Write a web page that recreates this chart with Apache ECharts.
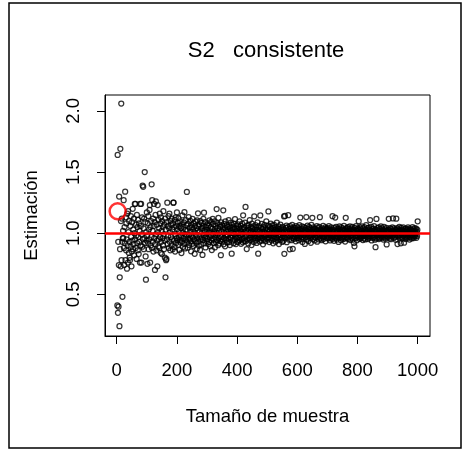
<!DOCTYPE html>
<html>
<head>
<meta charset="utf-8">
<script src="https://cdn.jsdelivr.net/npm/echarts@6/dist/echarts.min.js"></script>
<style>
html,body{margin:0;padding:0;background:#fff;}
#chart{width:468px;height:452px;}
</style>
</head>
<body>
<div id="chart"></div>
<script>
// Sample sizes start at 2 and run to 1000 (one estimate per sample size)
const firstSampleSize = 2;

const estimatesN2to20 = [0.41,1.64,0.35,0.93,0.40,0.74,1.30,0.24,0.64,0.87,1.69,0.73,1.10,2.06,0.78,1.12,0.93,0.48,0.96];

const estimatesN21to100 = [
1.02,0.96,1.27,0.88,0.74,1.05,0.92,1.34,0.78,1.13,
0.86,1.08,0.95,0.71,1.16,0.90,0.76,1.18,1.01,0.84,
1.10,0.93,0.80,0.78,1.06,0.89,1.14,0.97,0.73,0.85,
1.09,0.94,1.20,0.87,1.03,0.91,1.12,0.82,1.00,1.24,
0.95,1.24,0.88,1.07,0.98,0.79,1.15,0.92,1.05,0.86,
1.11,0.97,0.83,1.08,0.93,1.02,0.76,1.24,0.90,1.06,
1.24,0.76,0.99,1.13,0.89,1.39,0.95,1.38,1.04,0.87,
1.12,0.96,1.50,0.92,1.09,0.81,0.62,1.01,0.94,1.17];

const estimatesN101to200 = [
0.98,0.75,1.08,0.92,1.14,0.87,1.03,0.95,1.19,1.23,
0.76,1.05,0.90,1.10,0.97,1.40,0.88,1.27,1.02,0.93,
1.12,0.85,1.06,1.24,0.96,1.09,0.70,0.91,1.15,1.26,
0.99,0.86,1.07,0.94,0.73,1.23,1.01,0.89,1.11,0.95,
1.04,0.88,1.16,0.97,1.08,0.84,1.13,0.93,1.02,0.83,
1.10,0.96,1.05,0.90,1.18,0.99,0.87,1.07,0.94,0.80,
1.12,0.64,1.03,0.78,0.79,1.09,0.95,1.25,0.91,1.06,
0.98,1.14,0.88,1.04,1.16,0.93,1.01,0.86,1.10,0.97,
1.07,0.90,1.12,0.95,1.03,0.87,1.08,1.25,1.25,0.94,
1.05,0.89,1.11,0.85,0.99,1.13,0.92,1.06,0.96,1.17];

const estimatesN201to300 = [
1.034,0.942,1.087,0.905,1.123,0.969,1.011,0.863,1.058,0.947,
1.096,0.924,1.043,0.981,0.838,1.072,0.935,1.146,1.004,0.887,
1.053,0.961,1.089,0.915,1.172,0.993,0.876,1.027,0.944,1.108,
0.972,1.064,1.338,0.926,1.019,0.882,1.077,0.953,1.131,0.987,
0.903,1.045,0.958,1.102,0.934,1.016,0.852,1.069,0.976,1.048,
0.914,1.117,0.965,1.032,0.896,1.083,0.949,1.007,0.832,1.061,
0.938,1.094,0.985,0.921,1.042,0.873,1.106,0.957,1.024,1.163,
0.931,1.056,0.897,1.073,0.979,1.013,0.864,1.098,0.952,1.036,
0.908,1.084,0.967,1.041,0.823,1.059,0.943,1.118,0.986,1.168,
0.917,1.023,0.962,1.091,0.884,1.052,0.974,1.008,0.936,1.067];

const estimatesN301to400 = [
1.027,0.953,1.081,0.912,1.004,1.063,0.928,1.106,0.971,1.018,
0.893,1.047,0.984,1.092,0.941,0.862,1.038,0.957,1.117,0.992,
1.074,0.919,1.012,0.948,1.097,0.884,1.033,0.966,1.058,0.927,
1.006,1.198,0.944,1.083,0.989,1.042,0.902,1.126,0.963,1.021,
0.916,1.071,0.978,1.054,0.937,0.821,1.088,0.968,1.014,0.932,
1.062,0.951,1.029,1.187,0.909,1.003,1.076,0.958,1.044,0.893,
1.097,0.972,1.017,0.946,1.066,0.987,0.924,1.053,0.979,1.031,
0.954,1.108,0.927,1.012,1.057,0.903,1.041,0.968,1.086,0.961,
1.024,0.833,1.069,0.983,1.002,0.941,1.048,0.918,1.079,0.994,
1.034,0.947,1.116,0.973,1.009,0.912,1.061,0.957,1.038,0.929];

const estimatesN401to500 = [
1.018,0.964,1.072,0.931,1.003,1.049,0.968,1.097,0.943,1.028,
0.982,1.061,0.914,1.012,1.038,0.953,1.078,0.991,0.926,1.147,
1.032,0.958,1.047,0.937,1.006,1.086,0.972,1.215,0.934,1.021,
0.979,0.871,1.063,0.948,1.014,1.042,0.917,1.068,0.987,1.026,
0.961,1.108,0.944,1.002,1.053,0.969,1.017,0.903,1.079,0.983,
1.039,0.952,1.011,1.057,0.928,0.994,1.138,0.963,1.031,0.976,
1.066,0.941,1.007,1.048,0.921,1.024,0.977,1.088,0.954,0.833,
1.027,0.968,1.059,0.986,0.932,1.013,1.146,0.957,1.043,0.981,
0.939,1.077,1.004,0.962,1.034,0.909,1.052,0.988,1.016,0.948,
1.068,0.973,1.009,0.934,1.041,0.982,1.097,0.959,1.022,0.991];

const estimatesN501to600 = [
1.031,0.948,1.062,1.178,0.967,1.012,0.928,1.053,0.989,1.024,
0.957,1.078,0.983,1.036,0.941,1.003,1.064,0.972,1.043,0.918,
1.014,0.978,1.069,0.952,1.021,0.993,1.048,0.931,1.027,0.966,
1.006,1.087,0.958,1.019,0.944,1.038,0.981,1.057,0.912,1.009,
0.968,1.032,0.987,1.071,0.947,1.013,1.042,0.961,1.024,0.929,
1.052,0.976,1.002,0.938,1.029,1.137,0.832,0.969,1.141,1.011,
0.958,1.044,0.986,1.063,0.927,1.018,0.972,1.049,1.004,1.148,
0.981,1.033,0.947,1.012,0.869,1.058,0.974,1.021,0.992,1.039,
0.943,1.007,1.068,0.962,0.873,1.031,0.979,1.047,0.953,1.014,
0.968,1.042,0.988,1.023,0.934,1.059,0.977,1.002,0.961,1.028];

const estimatesN601to700 = [
0.986,1.047,0.963,1.018,0.942,1.009,1.066,0.974,1.031,1.128,
0.979,1.003,0.951,1.038,0.969,1.057,0.929,1.021,0.988,1.012,
0.957,1.049,0.983,1.027,0.913,1.004,1.043,0.971,1.019,1.132,
0.948,1.013,0.991,1.062,0.966,1.034,0.937,1.007,1.052,0.978,
1.024,0.961,1.041,0.986,0.922,1.011,1.068,0.973,1.029,1.126,
0.982,1.006,0.953,1.047,0.994,1.018,0.941,1.036,0.968,1.009,
0.963,1.032,1.002,0.978,1.058,0.931,1.023,0.987,1.042,0.971,
1.014,0.949,1.053,0.982,1.131,1.003,0.958,1.028,0.993,1.017,
0.943,1.039,0.976,1.012,0.967,1.061,0.952,1.004,1.031,0.973,
1.022,0.988,1.048,0.934,1.011,0.979,1.038,0.961,1.006,1.027];

const estimatesN701to800 = [
0.983,1.041,0.958,1.012,1.059,0.968,1.023,0.992,0.941,1.032,
1.004,0.963,1.047,0.979,1.018,0.952,1.139,0.986,1.029,0.971,
1.013,0.938,1.043,0.989,0.966,1.128,1.002,0.957,1.052,0.978,
1.021,0.948,1.006,1.038,0.973,1.011,0.929,1.033,0.993,1.057,
0.962,1.024,0.981,1.009,0.943,1.048,0.987,1.027,0.969,1.003,
1.039,0.951,1.014,0.977,1.061,0.958,1.022,0.991,0.932,1.031,
1.126,0.967,1.004,1.042,0.961,1.012,0.983,1.049,0.953,1.019,
0.988,1.034,0.972,1.001,1.056,0.944,1.024,0.979,1.037,0.963,
1.011,0.986,1.051,0.947,1.018,0.969,1.029,0.921,1.003,0.893,
1.043,0.978,1.009,0.962,1.058,0.987,1.021,0.942,1.032,0.973];

const estimatesN801to900 = [
1.004,1.038,0.968,1.098,0.989,1.023,0.953,1.047,0.981,1.012,
0.961,1.031,0.998,0.972,1.057,0.988,1.016,0.944,1.039,0.977,
1.013,0.958,1.049,0.991,1.022,0.949,1.028,0.983,1.066,1.002,
0.969,1.019,0.987,1.042,0.952,1.008,0.979,1.046,0.963,1.027,
1.003,1.108,0.974,1.021,0.992,1.053,0.941,1.012,0.981,1.033,
0.962,1.037,1.006,0.968,1.058,0.986,1.017,0.947,1.029,0.886,
1.011,0.979,1.117,0.958,1.024,0.993,1.041,0.971,1.002,1.048,
0.952,1.018,0.983,1.034,0.961,1.009,0.989,1.056,0.972,1.004,
1.039,0.963,1.013,0.978,1.027,0.948,1.001,1.051,0.969,1.022,
0.991,1.032,0.957,1.014,0.982,1.043,0.908,1.006,1.019,0.974];

const estimatesN901to1000 = [
1.012,0.968,1.029,1.118,0.987,1.021,0.958,1.042,0.979,1.003,
0.951,1.034,0.989,1.013,0.972,1.048,1.002,1.121,0.982,1.018,
0.962,1.039,0.993,1.011,0.969,1.027,0.947,1.004,1.119,1.023,
0.978,1.041,0.912,1.006,1.032,0.973,1.014,0.988,1.052,0.961,
1.024,0.983,1.001,0.918,1.043,0.968,1.012,0.991,1.029,0.957,
1.004,1.048,0.977,1.019,0.923,0.987,1.033,0.971,1.009,0.952,
1.038,0.989,1.021,0.963,1.002,1.031,0.979,1.047,0.966,1.013,
0.992,1.024,0.948,1.037,1.003,0.969,1.028,0.984,1.011,0.958,
1.019,0.987,1.049,0.972,1.006,1.032,0.961,1.014,0.981,1.041,
0.974,1.022,0.989,1.001,1.038,0.963,1.012,0.978,1.027,1.097];

// highlighted point (red circle)
const highlightSampleSize = [3];
const highlightEstimate = [1.18];

// reference value (true variance)
const trueValue = 1;

// tick labels
const xTicks = [0, 200, 400, 600, 800, 1000];
const yTicks = [0.5, 1.0, 1.5, 2.0];

const titleText = 'S2   consistente';
const xTitle = 'Tamaño de muestra';
const yTitle = 'Estimación';

const allEstimates = [].concat(
  estimatesN2to20, estimatesN21to100, estimatesN101to200, estimatesN201to300,
  estimatesN301to400, estimatesN401to500, estimatesN501to600, estimatesN601to700,
  estimatesN701to800, estimatesN801to900, estimatesN901to1000);
const points = allEstimates.map((v, i) => [firstSampleSize + i, v]);
const highlight = highlightSampleSize.map((n, i) => [n, highlightEstimate[i]]);

const FONT = '"Liberation Sans", Arial, sans-serif';
const chart = echarts.init(document.getElementById('chart'), null, {renderer: 'canvas'});

chart.setOption({
  animation: false,
  backgroundColor: '#fff',
  grid: {left: 105, top: 95, right: 38, bottom: 116, show: true, borderColor: '#000', borderWidth: 1, backgroundColor: 'transparent'},
  xAxis: {
    type: 'value', min: -39, max: 1041,
    axisLine: {show: true, onZero: false, lineStyle: {color: '#000', width: 1}},
    axisTick: {show: true, length: 8, lineStyle: {color: '#000'}, customValues: xTicks},
    axisLabel: {customValues: xTicks, color: '#000', fontSize: 18.5, fontFamily: FONT, margin: 25,
      formatter: v => String(Math.round(v))},
    splitLine: {show: false}
  },
  yAxis: {
    type: 'value', min: 0.16, max: 2.13,
    axisLine: {show: true, onZero: false, lineStyle: {color: '#000', width: 1}},
    axisTick: {show: true, length: 8, lineStyle: {color: '#000'}, customValues: yTicks},
    axisLabel: {customValues: yTicks, color: '#000', fontSize: 18.5, fontFamily: FONT, margin: 22, rotate: 90,
      formatter: v => Number(v).toFixed(1)},
    splitLine: {show: false}
  },
  series: [
    {
      type: 'scatter',
      data: points,
      symbol: 'circle',
      symbolSize: 5,
      itemStyle: {color: 'rgba(0,0,0,0)', borderColor: '#000', borderWidth: 1.25},
      emphasis: {disabled: true},
      silent: true,
      markLine: {
        silent: true,
        symbol: ['none', 'none'],
        label: {show: false},
        lineStyle: {color: '#ff0000', width: 2.5, type: 'solid'},
        data: [{yAxis: trueValue}]
      }
    },
    {
      type: 'scatter',
      data: highlight,
      symbol: 'circle',
      symbolSize: 16,
      z: 5,
      itemStyle: {color: 'rgba(0,0,0,0)', borderColor: '#ff0000', borderWidth: 2.5},
      silent: true
    }
  ],
  graphic: [
    {type: 'rect', shape: {x: 9, y: 3, width: 452, height: 445}, style: {fill: 'none', stroke: '#000', lineWidth: 1.5}, silent: true},
    {type: 'text', x: 266, y: 51, style: {text: titleText, font: '22px ' + FONT, fill: '#000', align: 'center', verticalAlign: 'middle', textAlign: 'center', textVerticalAlign: 'middle'}},
    {type: 'text', x: 267.5, y: 417, style: {text: xTitle, font: '18.5px ' + FONT, fill: '#000', align: 'center', verticalAlign: 'middle', textAlign: 'center', textVerticalAlign: 'middle'}},
    {type: 'text', x: 32, y: 215.5, rotation: Math.PI / 2, style: {text: yTitle, font: '18.5px ' + FONT, fill: '#000', align: 'center', verticalAlign: 'middle', textAlign: 'center', textVerticalAlign: 'middle'}}
  ]
});
</script>
</body>
</html>
